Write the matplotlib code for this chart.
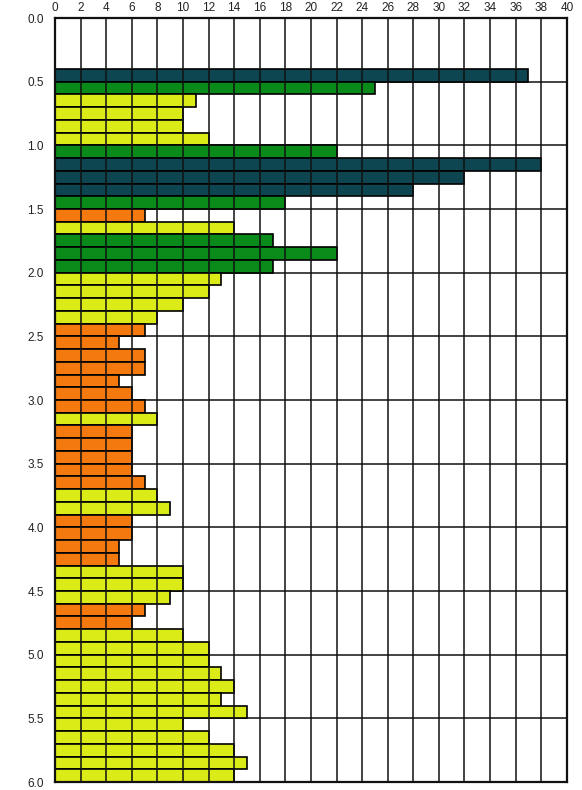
import matplotlib
matplotlib.use("Agg")
import matplotlib.pyplot as plt
import numpy as np

# Depth tops (m), bar values, and category of each 0.1 m interval
depth_top = [round(0.4 + 0.1 * i, 1) for i in range(56)]
values = [37, 25, 11, 10, 10, 12, 22, 38, 32, 28,
          18, 7, 14, 17, 22, 17, 13, 12, 10, 8,
          7, 5, 7, 7, 5, 6, 7, 8, 6, 6,
          6, 6, 7, 8, 9, 6, 6, 5, 5, 10,
          10, 9, 7, 6, 10, 12, 12, 13, 14, 13,
          15, 10, 12, 14, 15, 14]
classes = ["T", "G", "Y", "Y", "Y", "Y", "G", "T", "T", "T",
           "G", "O", "Y", "G", "G", "G", "Y", "Y", "Y", "Y",
           "O", "O", "O", "O", "O", "O", "O", "Y", "O", "O",
           "O", "O", "O", "Y", "Y", "O", "O", "O", "O", "Y",
           "Y", "Y", "O", "O", "Y", "Y", "Y", "Y", "Y", "Y",
           "Y", "Y", "Y", "Y", "Y", "Y"]
class_colors = {"T": "#0d4550", "G": "#0a8a18", "Y": "#dbeb18", "O": "#f47a10"}

x_ticks = list(range(0, 41, 2))
y_ticks = [0.0, 0.5, 1.0, 1.5, 2.0, 2.5, 3.0, 3.5, 4.0, 4.5, 5.0, 5.5, 6.0]

plt.rcParams['font.family'] = ['Liberation Sans', 'DejaVu Sans']

fig = plt.figure(figsize=(5.82, 7.90), dpi=100)
ax = fig.add_axes([0.0945, 0.0101, 0.8795, 0.9671])

colors = [class_colors[c] for c in classes]
ax.barh(depth_top, values, height=0.1, align="edge", color=colors,
        edgecolor="black", linewidth=1.2, zorder=2)

ax.set_xlim(0, 40)
ax.set_ylim(6.0, 0.0)
ax.set_xticks(x_ticks)
ax.set_yticks(y_ticks)
ax.set_yticklabels([f"{v:.1f}" for v in y_ticks])
ax.xaxis.tick_top()
ax.tick_params(axis="both", length=0, labelsize=8.5, colors="#222222")
ax.tick_params(axis="x", pad=3)
ax.tick_params(axis="y", pad=8)

# vertical grid on top of bars, horizontal grid behind
for xv in x_ticks[1:-1]:
    ax.axvline(xv, color="#111111", linewidth=1.1, zorder=3)
for yv in y_ticks[1:-1]:
    ax.axhline(yv, color="#111111", linewidth=1.1, zorder=1)

for s in ax.spines.values():
    s.set_linewidth(1.6)
    s.set_color("#111111")
    s.set_zorder(4)

fig.savefig("out.png", dpi=100)
